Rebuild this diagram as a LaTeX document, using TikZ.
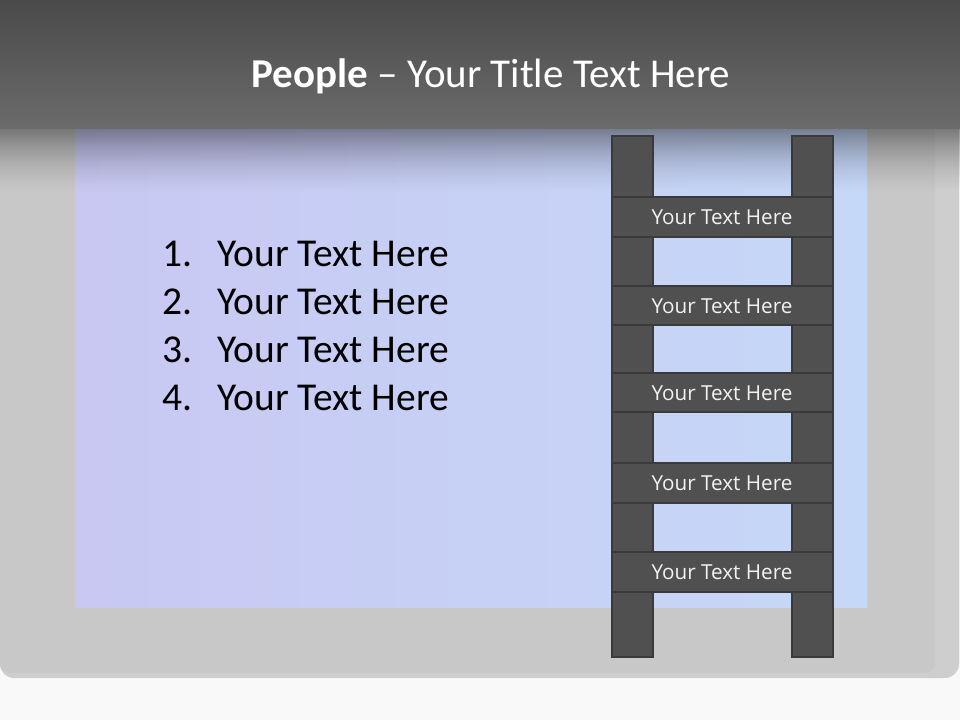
\documentclass[tikz,border=0pt]{standalone}
\usepackage{fontspec}
\setmainfont{Carlito}
\newfontfamily\rungfont{Open Sans}
\begin{document}
\begin{tikzpicture}[x=1pt,y=-1pt,
  rail/.style={fill=railgray,draw=railedge,line width=2.4pt},
  rung/.style={fill=railgray,draw=railedge,line width=2.4pt},
  rungtext/.style={text=rungwhite,font=\rungfont\fontsize{20.7}{24}\selectfont,anchor=base},
  listitem/.style={text=black,font=\fontsize{39.5}{46}\selectfont,anchor=base west,inner sep=0pt},
]
\definecolor{railgray}{HTML}{505050}
\definecolor{railedge}{HTML}{3A3A3A}
\definecolor{rungwhite}{HTML}{F2F2F2}
\definecolor{pagebg}{HTML}{F9F9F9}
\definecolor{panelgray}{HTML}{C8C8C8}
\definecolor{paneledge}{HTML}{CECECE}
\definecolor{bluel}{HTML}{C8C8F2}
\definecolor{bluer}{HTML}{C6D8F8}
\definecolor{bandtop}{HTML}{4A4A4A}
\definecolor{bandbot}{HTML}{6B6B6B}
\useasboundingbox (0,0) rectangle (960,720);
\fill[pagebg] (0,0) rectangle (960,720);
% panel
\fill[paneledge,rounded corners=14pt] (0,100) rectangle (959,678);
\fill[panelgray,rounded corners=10pt] (0,100) rectangle (935,673);
% blue area
\shade[shading angle=60,left color=bluel,right color=bluer] (75,120) rectangle (867,607);
% shadow under title band
\foreach \i in {0,...,33}{
  \pgfmathsetmacro{\op}{0.42*(1-\i/34)^1.6}
  \fill[black,opacity=\op] (0,127+2*\i) rectangle (960,129+2*\i);
}
% title band
\shade[top color=bandtop,bottom color=bandbot] (0,0) rectangle (960,128);
\node[text=white,font=\fontsize{41}{48}\selectfont,anchor=base] (title) at (491,87) {\textbf{People} – Your Title Text Here};
% list
\foreach \n/\yy in {1/266,2/314,3/362,4/410}{
  \node[listitem] (num\n) at (162,\yy) {\n.};
  \node[listitem] (item\n) at (217,\yy) {Your Text Here};
}
% ladder rails
\draw[rail] (612,136) rectangle (653,657);
\draw[rail] (792,136) rectangle (833,657);
% rungs
\foreach \k/\ya/\yb in {1/197/237,2/286/325,3/373/412,4/463/503,5/552/592}{
  \draw[rung] (612,\ya) rectangle (833,\yb);
  \node[rungtext] (rung\k) at (722,{(\ya+\yb)/2+7.5}) {Your Text Here};
}
\end{tikzpicture}
\end{document}
